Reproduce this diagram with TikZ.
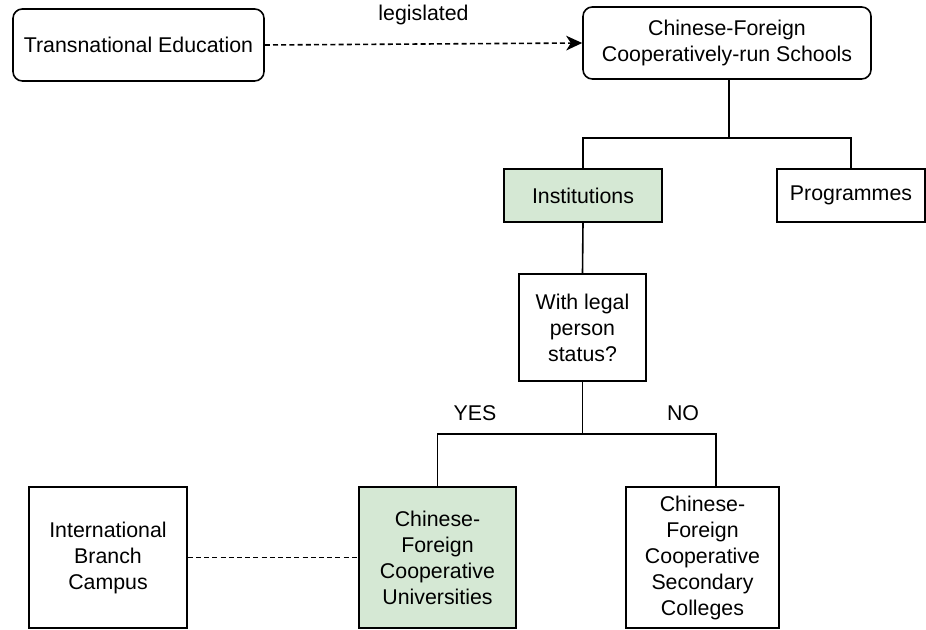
\documentclass[tikz,border=0pt]{standalone}
\usepackage{fontspec}
\setmainfont{Liberation Sans}
\usetikzlibrary{arrows.meta}
\definecolor{boxgreen}{HTML}{D5E8D4}
\def\u{0.75pt}
\tikzset{
  box/.style={draw=black, line width=1.2pt, fill=white, inner sep=0pt, align=center,
    font=\fontsize{16pt}{19.5pt}\selectfont},
  rbox/.style={box, rounded corners=7pt},
  gbox/.style={box, fill=boxgreen},
  conn/.style={draw=black, line width=1.2pt},
  dashconn/.style={conn, dash pattern=on 3.75pt off 2.4pt},
  lbl/.style={font=\fontsize{16pt}{19.5pt}\selectfont, inner sep=0pt}
}
\begin{document}
\begin{tikzpicture}[x=0.75pt, y=-0.75pt]
\useasboundingbox (0,0) rectangle (926,630);
\node[rbox, minimum width={251*\u}, minimum height={72*\u}] (te) at (138.5,45) {Transnational Education};
\node[rbox, minimum width={288*\u}, minimum height={72*\u}] (cfcs) at (727,43) {Chinese-Foreign\\Cooperatively-run Schools};
\node[gbox, minimum width={158*\u}, minimum height={53*\u}] (inst) at (583,195.5) {Institutions};
\node[box, minimum width={148*\u}, minimum height={53*\u}] (prog) at (851,195.5) {Programmes};
\node[box, minimum width={127*\u}, minimum height={107*\u}] (q) at (582.5,327.5) {With legal\\person\\status?};
\node[box, minimum width={158*\u}, minimum height={141*\u}] (ibc) at (108,557.5) {International\\Branch\\Campus};
\node[gbox, minimum width={157*\u}, minimum height={141*\u}] (cfcu) at (437.5,557.5) {Chinese-\\Foreign\\Cooperative\\Universities};
\node[box, minimum width={153*\u}, minimum height={141*\u}] (cfcsc) at (702.5,557.5) {Chinese-\\Foreign\\Cooperative\\Secondary\\Colleges};
% legislated arrow
\draw[dashconn, -{Stealth[length=12pt, width=11pt, inset=3.5pt]}] (te.east) -- (cfcs.west) node[lbl, midway, above=14pt] (leg) {legislated};
% top tree
\coordinate (j1) at (729,138);
\draw[conn] ([xshift=1.5pt]cfcs.south) -- (j1);
\draw[conn] (inst.north) |- (j1) -| (prog.north);
\draw[conn] (inst.south) -- (q.north);
% bottom tree
\coordinate (j2) at (582.5,434);
\draw[conn] (q.south) -- (j2);
\draw[conn] (cfcu.north) |- (j2) -| ([xshift={13.5*\u}]cfcsc.north);
\node[lbl] (yes) at (475,413) {YES};
\node[lbl] (no) at (683,413) {NO};
% dashed link
\draw[dashconn] (ibc.east) -- (cfcu.west);
\end{tikzpicture}
\end{document}
